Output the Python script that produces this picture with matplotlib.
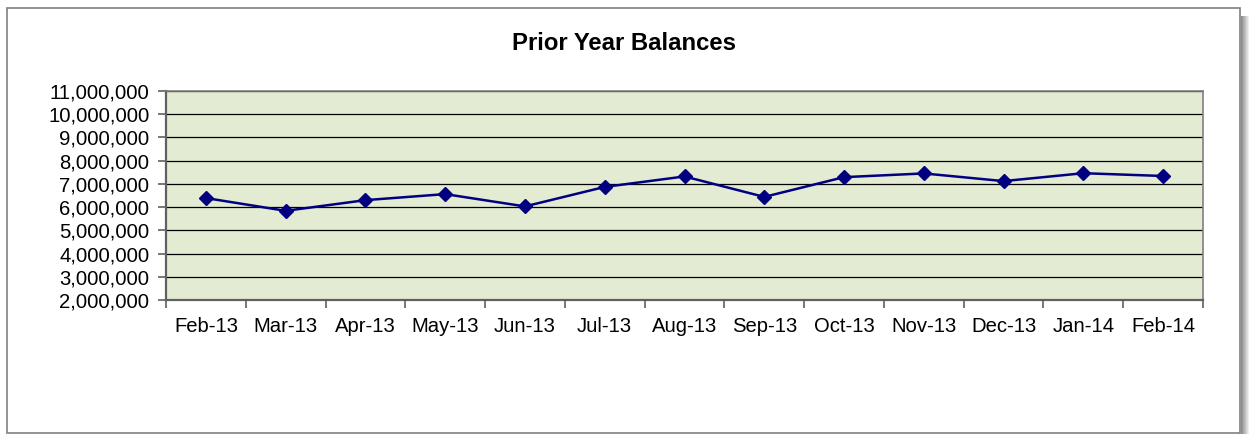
import matplotlib.pyplot as plt
from matplotlib.patches import Rectangle
from matplotlib.ticker import FuncFormatter, MultipleLocator, FixedLocator

plt.rcParams['font.family'] = ['Liberation Sans', 'DejaVu Sans']

months = ['Feb-13', 'Mar-13', 'Apr-13', 'May-13', 'Jun-13', 'Jul-13', 'Aug-13',
          'Sep-13', 'Oct-13', 'Nov-13', 'Dec-13', 'Jan-14', 'Feb-14']
balances = [6390000, 5840000, 6300000, 6560000, 6030000, 6870000, 7320000,
            6440000, 7290000, 7450000, 7120000, 7460000, 7340000]

fig = plt.figure(figsize=(12.49, 4.34), dpi=100)
ax = fig.add_axes([166 / 1249, 1 - 300 / 434, (1203 - 166) / 1249, (300 - 91) / 434])

# chart frame and right shadow
fig.add_artist(Rectangle((7 / 1249, 1 / 434), 1233 / 1249, 425 / 434,
                         transform=fig.transFigure, fill=False,
                         edgecolor='#808080', linewidth=1.2))
for i in range(8):
    g = 0.55 + i * 0.055
    fig.add_artist(Rectangle(((1241 + i) / 1249, 0), 1 / 1249, 1 - 16 / 434,
                             transform=fig.transFigure, facecolor=(g, g, g),
                             edgecolor='none'))

ax.set_facecolor('#E3EBD2')
x = list(range(len(months)))
ax.plot(x, balances, color='#000080', linewidth=1.8, marker='D', markersize=7,
        zorder=3)

ax.set_xlim(-0.5, len(months) - 0.5)
ax.set_ylim(2000000, 11000000)
ax.yaxis.set_major_locator(MultipleLocator(1000000))
ax.yaxis.set_major_formatter(FuncFormatter(lambda v, p: f'{int(v):,}'))
ax.grid(axis='y', color='black', linewidth=0.9)
ax.set_axisbelow(True)

ax.xaxis.set_major_locator(FixedLocator(x))
ax.set_xticklabels(months)
ax.xaxis.set_minor_locator(FixedLocator([i - 0.5 for i in range(len(months) + 1)]))
ax.tick_params(axis='x', which='major', length=0, pad=12, labelsize=14.6)
ax.tick_params(axis='x', which='minor', length=6, width=1.2, color='#606060')
ax.tick_params(axis='y', length=6, width=1.2, color='#606060', pad=6, labelsize=14.6)

for s in ['left', 'bottom']:
    ax.spines[s].set_color('#606060')
    ax.spines[s].set_linewidth(1.6)
for s in ['top', 'right']:
    ax.spines[s].set_color('#808080')
    ax.spines[s].set_linewidth(1.2)

fig.text(624 / 1249, 1 - 43 / 434, 'Prior Year Balances', ha='center', va='center',
         fontsize=17.2, fontweight='bold')

fig.savefig('out.png', dpi=100)
